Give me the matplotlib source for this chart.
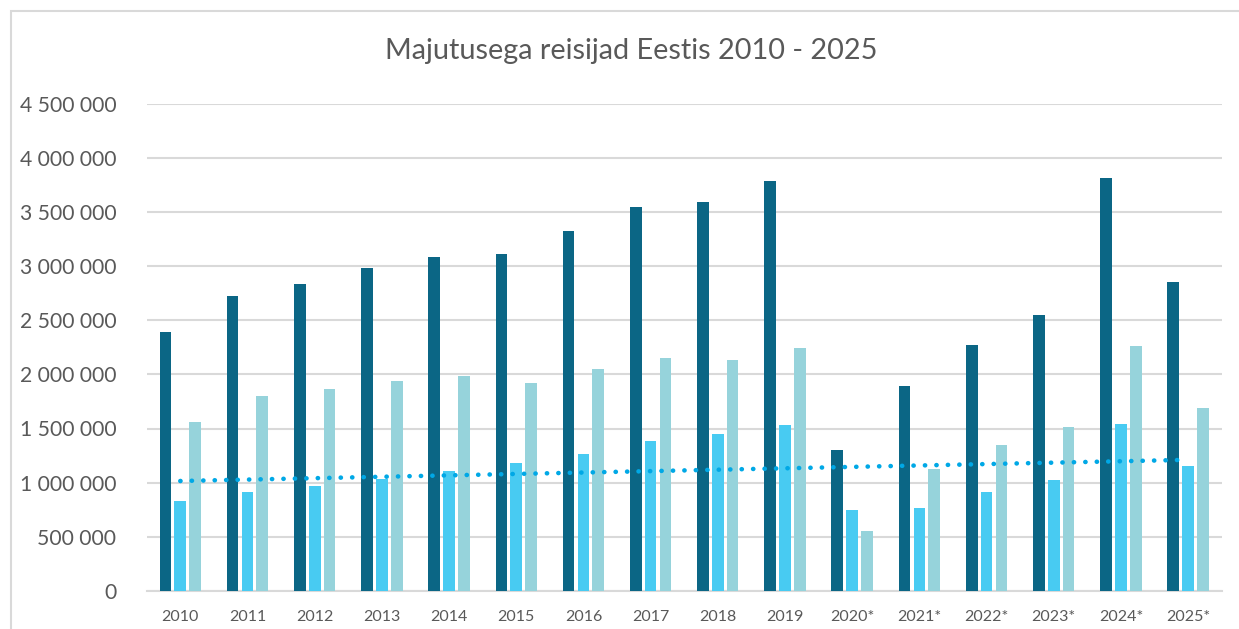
import numpy as np
import matplotlib
matplotlib.use("Agg")
import matplotlib.pyplot as plt
from matplotlib.patches import Rectangle

years = ["2010", "2011", "2012", "2013", "2014", "2015", "2016", "2017",
         "2018", "2019", "2020*", "2021*", "2022*", "2023*", "2024*", "2025*"]
series_dark = [2395000, 2719000, 2832000, 2978000, 3082000, 3107000, 3321000, 3541000,
               3587000, 3787000, 1301000, 1894000, 2272000, 2544000, 3816000, 2852000]
series_light = [835000, 916000, 965000, 1036000, 1104000, 1178000, 1266000, 1382000,
                1447000, 1531000, 745000, 764000, 916000, 1029000, 1544000, 1152000]
series_pale = [1563000, 1803000, 1868000, 1936000, 1984000, 1923000, 2052000, 2153000,
               2136000, 2246000, 550000, 1123000, 1350000, 1512000, 2266000, 1693000]
yticks = [0, 500000, 1000000, 1500000, 2000000, 2500000, 3000000, 3500000, 4000000, 4500000]
title = "Majutusega reisijad Eestis 2010 - 2025"

plt.rcParams['font.family'] = ['Lato', 'DejaVu Sans']

W, H = 1239, 629
fig = plt.figure(figsize=(W / 100, H / 100), dpi=100)
fig.patch.set_facecolor("white")

# chart frame
fig.add_artist(Rectangle((11 / W, -0.05), 1.1, 1 - 11 / H + 0.05, transform=fig.transFigure,
                         fill=False, edgecolor="#D9D9D9", linewidth=1.5))

left, right = 146.7 / W, 1221.7 / W
bottom, top = 1 - 591 / H, 1 - 103.5 / H
ax = fig.add_axes([left, bottom, right - left, top - bottom])

x = np.arange(len(years))
off = 0.221
bw = 0.174
ax.bar(x - off, series_dark, width=bw, color="#0B6685", zorder=3)
ax.bar(x, series_light, width=bw, color="#48CBF2", zorder=3)
ax.bar(x + off, series_pale, width=bw, color="#96D3DB", zorder=3)

# linear trendline of the middle series
k, b = np.polyfit(x, series_light, 1)
ax.plot(x, k * x + b, color="#00A8E6", linestyle=(0, (0.05, 2.45)), linewidth=3.3,
        dash_capstyle="round", solid_capstyle="round", zorder=4)

ax.set_xlim(-0.5, len(years) - 0.5)
ax.set_ylim(0, 4500000)
ax.set_yticks(yticks)
ax.set_yticklabels([f"{v:,}".replace(",", " ") for v in yticks])
ax.set_xticks(x)
ax.set_xticklabels(years)

ax.grid(axis="y", color="#D9D9D9", linewidth=1.5, zorder=0)
ax.set_axisbelow(True)
for s in ["top", "right", "left"]:
    ax.spines[s].set_visible(False)
ax.spines["bottom"].set_color("#D9D9D9")
ax.spines["bottom"].set_linewidth(1.5)
ax.tick_params(axis="both", length=0)
ax.tick_params(axis="y", labelsize=15.2, labelcolor="#595959", pad=22)
ax.tick_params(axis="x", labelsize=11.5, labelcolor="#595959", pad=14)

fig.text(631 / W, 1 - 51.5 / H, title, ha="center", va="center", fontsize=20.8, color="#595959")

fig.savefig("out.png", dpi=100)
